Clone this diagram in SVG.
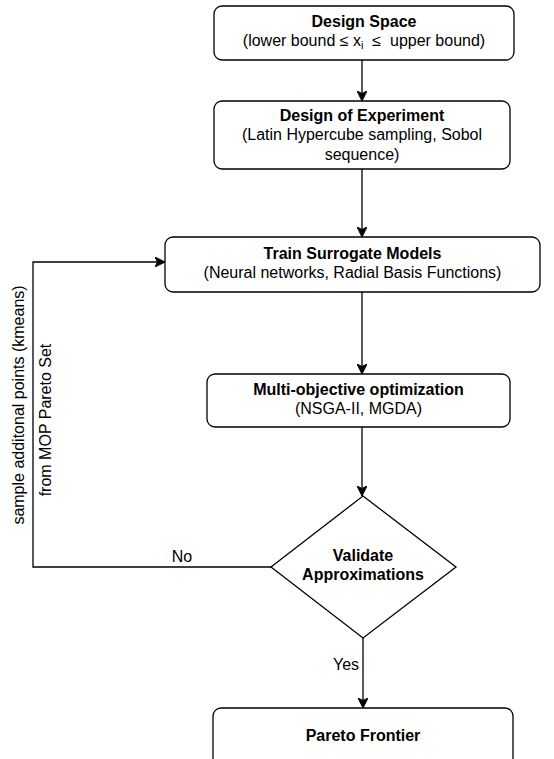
<svg xmlns="http://www.w3.org/2000/svg" width="554" height="759" viewBox="0 0 554 759">
<style>
.box{fill:#ffffff;stroke:#000000;stroke-width:1.3}
.t{font-family:"Liberation Sans",Arial,sans-serif;font-size:16px;fill:#000000;text-anchor:middle}
.b{font-weight:bold}
.edge{fill:none;stroke:#000000;stroke-width:1.3}
</style>
<defs>
<marker id="arr" viewBox="0 0 10 10" refX="10" refY="5" markerWidth="10" markerHeight="10" markerUnits="userSpaceOnUse" orient="auto">
<path d="M0,0 L10,5 L0,10 L2.5,5 Z" fill="#000000" stroke="#000000" stroke-width="1"/>
</marker>
</defs>
<rect width="554" height="759" fill="#ffffff"/>
<g id="connectors">
<path class="edge" d="M362,60 L362,101" marker-end="url(#arr)"/>
<path class="edge" d="M362,169 L362,237" marker-end="url(#arr)"/>
<path class="edge" d="M362,292 L362,374" marker-end="url(#arr)"/>
<path class="edge" d="M362,427 L362,496" marker-end="url(#arr)"/>
<path class="edge" d="M363,638 L363,708" marker-end="url(#arr)"/>
<path class="edge" d="M271,567 L33,567 L33,262 L165,262" marker-end="url(#arr)"/>
<text class="t" x="346" y="670">Yes</text>
<text class="t" x="182" y="562">No</text>
<text class="t" transform="translate(24,405) rotate(-90)">sample additonal points (kmeans)</text>
<text class="t" transform="translate(51,420) rotate(-90)">from MOP Pareto Set</text>
</g>
<g id="design-space">
<rect class="box" x="214" y="6" width="300" height="54" rx="8"/>
<text class="t b" x="364" y="27">Design Space</text>
<text class="t" x="364" y="46" xml:space="preserve">(lower bound ≤ x<tspan font-size="11" dy="3">i</tspan><tspan dy="-3">  ≤  upper bound)</tspan></text>
</g>
<g id="design-of-experiment">
<rect class="box" x="214" y="101" width="296" height="68" rx="8"/>
<text class="t b" x="362" y="120.5">Design of Experiment</text>
<text class="t" x="362" y="140">(Latin Hypercube sampling, Sobol</text>
<text class="t" x="362" y="159.5">sequence)</text>
</g>
<g id="train-surrogate">
<rect class="box" x="165" y="237" width="375" height="55" rx="8"/>
<text class="t b" x="352.5" y="258.5">Train Surrogate Models</text>
<text class="t" x="352.5" y="277.5">(Neural networks, Radial Basis Functions)</text>
</g>
<g id="moo">
<rect class="box" x="207" y="374" width="303" height="53" rx="8"/>
<text class="t b" x="358.5" y="394.5">Multi-objective optimization</text>
<text class="t" x="358.5" y="413.5">(NSGA-II, MGDA)</text>
</g>
<g id="validate">
<path class="box" d="M363,496 L456,567 L363,638 L271,567 Z"/>
<text class="t b" x="363" y="561">Validate</text>
<text class="t b" x="363" y="580">Approximations</text>
</g>
<g id="pareto-frontier">
<rect class="box" x="213" y="708" width="300" height="60" rx="8"/>
<text class="t b" x="363" y="741">Pareto Frontier</text>
</g>
</svg>
